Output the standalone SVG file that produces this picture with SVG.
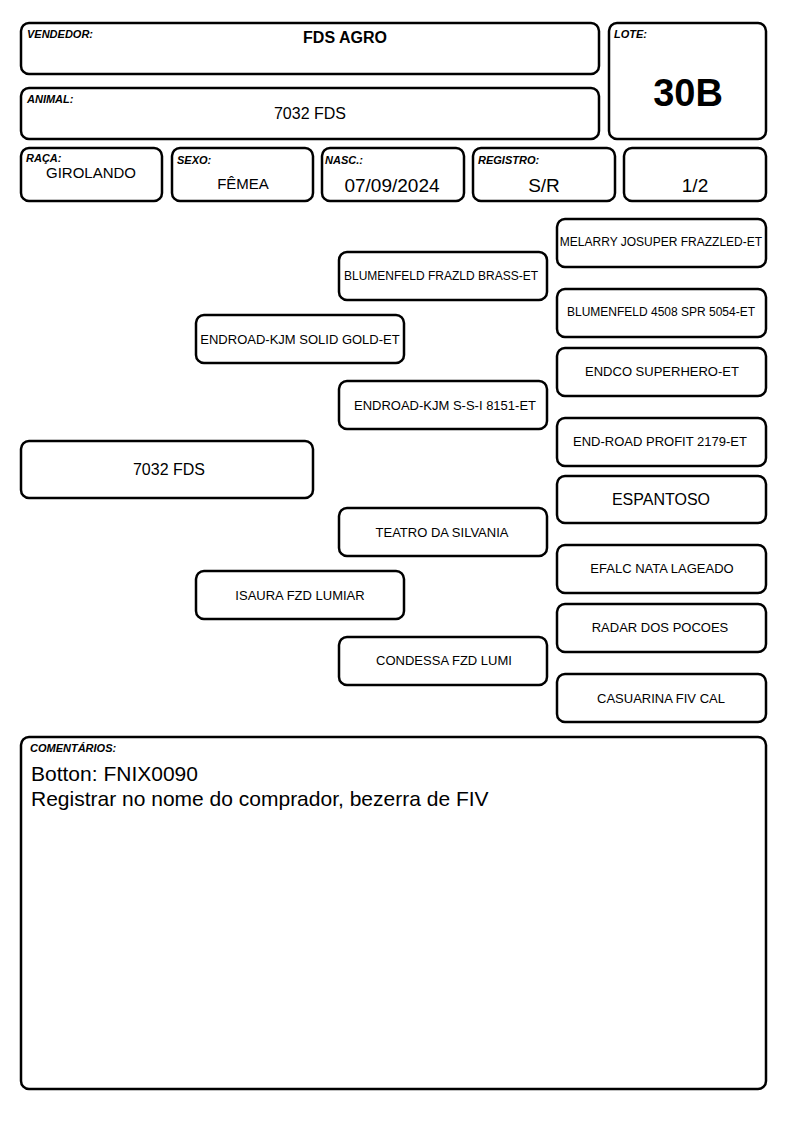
<svg xmlns="http://www.w3.org/2000/svg" width="794" height="1123" viewBox="0 0 794 1123">
<style>
.b{fill:#fff;stroke:#000;stroke-width:2.5}
.l{font-family:"Liberation Sans",Arial,sans-serif;font-size:11px;font-weight:bold;font-style:italic;fill:#000}
.t{font-family:"Liberation Sans",Arial,sans-serif;fill:#000;text-anchor:middle}
.s{font-size:12px}
.m{font-size:13px}
.g{font-size:16px}
.v{font-size:19px}
</style>
<rect width="794" height="1123" fill="#fff"/>
<g id="vendedor"><rect class="b" x="21" y="23" width="578" height="51" rx="8"/><text class="l" x="27" y="38">VENDEDOR:</text><text class="t" x="345" y="43" font-size="16" font-weight="bold">FDS AGRO</text></g>
<g id="animal"><rect class="b" x="21" y="88" width="578" height="51" rx="8"/><text class="l" x="27" y="103">ANIMAL:</text><text class="t g" x="310" y="119">7032 FDS</text></g>
<g id="lote"><rect class="b" x="609" y="23" width="157" height="116" rx="8"/><text class="l" x="614" y="38">LOTE:</text><text class="t" x="688" y="106" font-size="38" font-weight="bold">30B</text></g>
<g id="raca"><rect class="b" x="21" y="148" width="141" height="53" rx="8"/><text class="l" x="26" y="162">RAÇA:</text><text class="t" x="91" y="178" font-size="15">GIROLANDO</text></g>
<g id="sexo"><rect class="b" x="172" y="148" width="141" height="53" rx="8"/><text class="l" x="177" y="164">SEXO:</text><text class="t" x="243" y="189" font-size="15">FÊMEA</text></g>
<g id="nasc"><rect class="b" x="322" y="148" width="142" height="53" rx="8"/><text class="l" x="325" y="164">NASC.:</text><text class="t v" x="392" y="192">07/09/2024</text></g>
<g id="registro"><rect class="b" x="473" y="148" width="142" height="53" rx="8"/><text class="l" x="478" y="164">REGISTRO:</text><text class="t v" x="544" y="192">S/R</text></g>
<g id="grau"><rect class="b" x="624" y="148" width="142" height="53" rx="8"/><text class="t v" x="695" y="192">1/2</text></g>
<g id="connectors"></g>
<g id="p0"><rect class="b" x="21" y="441" width="292" height="57" rx="8"/><text class="t g" x="169" y="475">7032 FDS</text></g>
<g id="p1"><rect class="b" x="196" y="315" width="208" height="48" rx="8"/><text class="t m" x="300" y="344">ENDROAD-KJM SOLID GOLD-ET</text></g>
<g id="p2"><rect class="b" x="196" y="571" width="208" height="48" rx="8"/><text class="t m" x="300" y="600">ISAURA FZD LUMIAR</text></g>
<g id="p3"><rect class="b" x="339" y="252" width="208" height="48" rx="8"/><text class="t s" x="441" y="280">BLUMENFELD FRAZLD BRASS-ET</text></g>
<g id="p4"><rect class="b" x="339" y="381" width="208" height="48" rx="8"/><text class="t m" x="445" y="410">ENDROAD-KJM S-S-I 8151-ET</text></g>
<g id="p5"><rect class="b" x="339" y="508" width="208" height="48" rx="8"/><text class="t m" x="442" y="537">TEATRO DA SILVANIA</text></g>
<g id="p6"><rect class="b" x="339" y="637" width="208" height="48" rx="8"/><text class="t m" x="444" y="665">CONDESSA FZD LUMI</text></g>
<g id="p7"><rect class="b" x="557" y="219" width="209" height="48" rx="8"/><text class="t s" x="661" y="246">MELARRY JOSUPER FRAZZLED-ET</text></g>
<g id="p8"><rect class="b" x="557" y="289" width="209" height="48" rx="8"/><text class="t s" x="661" y="316">BLUMENFELD 4508 SPR 5054-ET</text></g>
<g id="p9"><rect class="b" x="557" y="348" width="209" height="48" rx="8"/><text class="t m" x="662" y="376">ENDCO SUPERHERO-ET</text></g>
<g id="p10"><rect class="b" x="557" y="418" width="209" height="48" rx="8"/><text class="t m" x="660" y="446">END-ROAD PROFIT 2179-ET</text></g>
<g id="p11"><rect class="b" x="557" y="476" width="209" height="47" rx="8"/><text class="t g" x="661" y="505">ESPANTOSO</text></g>
<g id="p12"><rect class="b" x="557" y="545" width="209" height="48" rx="8"/><text class="t m" x="662" y="573">EFALC NATA LAGEADO</text></g>
<g id="p13"><rect class="b" x="557" y="604" width="209" height="48" rx="8"/><text class="t m" x="660" y="632">RADAR DOS POCOES</text></g>
<g id="p14"><rect class="b" x="557" y="674" width="209" height="48" rx="8"/><text class="t m" x="661" y="703">CASUARINA FIV CAL</text></g>
<g id="comentarios"><rect class="b" x="21" y="737" width="745" height="352" rx="8"/><text class="l" x="30" y="752">COMENTÁRIOS:</text>
<text font-family="Liberation Sans, Arial, sans-serif" font-size="21" x="31" y="781">Botton: FNIX0090</text>
<text font-family="Liberation Sans, Arial, sans-serif" font-size="21" x="31" y="806">Registrar no nome do comprador, bezerra de FIV</text></g>
</svg>
